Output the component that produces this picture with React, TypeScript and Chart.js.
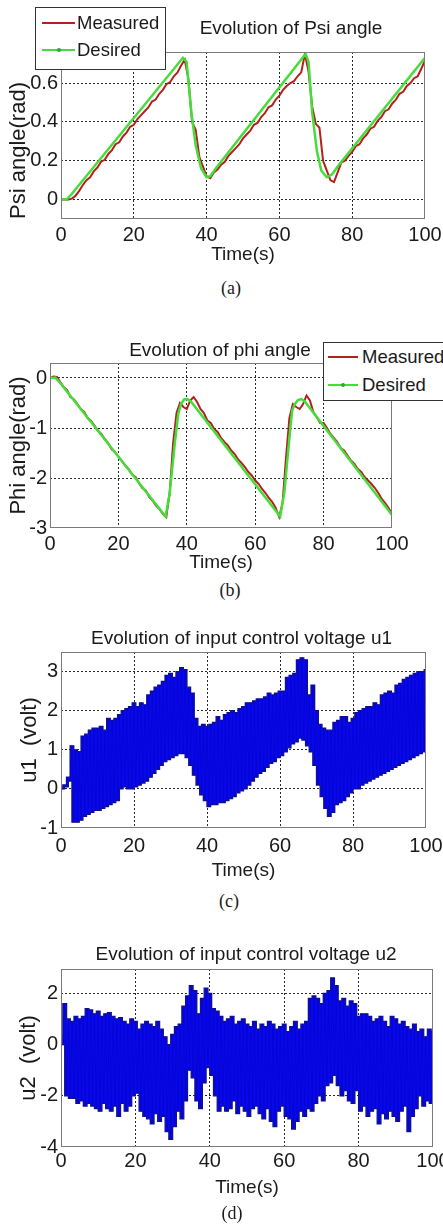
import React, { useEffect, useRef } from "react";
import { Chart, registerables } from "chart.js";

Chart.register(...registerables);

const SANS = "'Liberation Sans', Arial, Helvetica, sans-serif";
const SERIF = "'Liberation Serif', 'Times New Roman', serif";
const TEXT = "#1a1a1a";
const RED = "#b3201e";
const GREEN = "#44dd3a";
const BLUE = "#0808ea";
const BLUE_SIGNAL = "#0404d0";
const NAVY = "#101090";

// time axis (seconds)
const TIME_S = Array.from({ length: 101 }, (_, i) => i);
const X_TICKS = [0, 20, 40, 60, 80, 100];

// (a) Psi angle
const PSI_TICKS = [0, 0.2, 0.4, 0.6];
const PSI_DESIRED_T = [0, 1.5, 3, 33.5, 34.5, 35.8, 37, 38.5, 40, 41, 42.5, 67.2, 68, 69, 70.3, 71.5, 73, 74.5, 76, 100];
const PSI_DESIRED = [0, 0, 0.03, 0.73, 0.71, 0.45, 0.28, 0.16, 0.115, 0.12, 0.16, 0.75, 0.71, 0.45, 0.25, 0.15, 0.115, 0.13, 0.17, 0.73];
const PSI_MEASURED = [
  0, 0, 0, 0.005, 0.02, 0.045, 0.075, 0.1, 0.115, 0.145,
  0.165, 0.195, 0.205, 0.235, 0.255, 0.285, 0.295, 0.325, 0.345, 0.375,
  0.385, 0.415, 0.435, 0.455, 0.475, 0.505, 0.515, 0.545, 0.565, 0.595,
  0.605, 0.635, 0.655, 0.69, 0.72, 0.62, 0.4, 0.36, 0.22, 0.17,
  0.12, 0.11, 0.14, 0.155, 0.18, 0.195, 0.225, 0.245, 0.265, 0.285,
  0.315, 0.335, 0.355, 0.385, 0.395, 0.425, 0.445, 0.475, 0.485, 0.515,
  0.535, 0.565, 0.585, 0.6, 0.61, 0.635, 0.655, 0.75, 0.66, 0.48,
  0.39, 0.37, 0.2, 0.15, 0.1, 0.09, 0.14, 0.19, 0.2, 0.225,
  0.245, 0.275, 0.285, 0.315, 0.335, 0.365, 0.375, 0.405, 0.425, 0.455,
  0.465, 0.495, 0.515, 0.545, 0.555, 0.585, 0.6, 0.625, 0.635, 0.675,
  0.715,
];

// (b) Phi angle
const PHI_TICKS = [-3, -2, -1, 0];
const PHI_DESIRED_T = [0, 1.5, 3, 33.8, 35, 36.5, 37.5, 38.3, 39.2, 40.2, 41.2, 67.3, 68.5, 70, 70.8, 71.6, 72.5, 73.5, 74.5, 100];
const PHI_DESIRED = [0, 0.01, -0.1, -2.77, -2.3, -1.3, -0.72, -0.52, -0.43, -0.42, -0.47, -2.77, -2.3, -1.2, -0.65, -0.52, -0.44, -0.42, -0.47, -2.74];
const PHI_MEASURED = [
  0, 0.03, 0.02, -0.08, -0.18, -0.24, -0.38, -0.43, -0.52, -0.62,
  -0.68, -0.8, -0.86, -0.95, -1.05, -1.12, -1.22, -1.3, -1.42, -1.48,
  -1.57, -1.66, -1.75, -1.82, -1.93, -1.98, -2.1, -2.2, -2.25, -2.38,
  -2.45, -2.55, -2.62, -2.72, -2.78, -2.3, -1.3, -0.7, -0.5, -0.58,
  -0.62, -0.45, -0.38, -0.48, -0.62, -0.7, -0.85, -0.9, -1.02, -1.08,
  -1.2, -1.28, -1.35, -1.45, -1.52, -1.63, -1.7, -1.78, -1.88, -1.95,
  -2.05, -2.12, -2.22, -2.3, -2.4, -2.48, -2.6, -2.78, -2.5, -1.6,
  -0.8, -0.52, -0.58, -0.62, -0.52, -0.35, -0.45, -0.68, -0.78, -0.9,
  -0.9, -1.0, -1.12, -1.2, -1.28, -1.4, -1.45, -1.55, -1.65, -1.72,
  -1.82, -1.88, -1.98, -2.05, -2.12, -2.2, -2.3, -2.42, -2.5, -2.6,
  -2.72,
];

// (c) input control voltage u1: upper / lower swing per second
const U1_TICKS = [-1, 0, 1, 2, 3];
const U1_HIGH = [
  0.0, 0.1, 0.3, 1.1, 1.0, 0.95, 1.35, 1.4, 1.5, 1.55,
  1.55, 1.6, 1.5, 1.8, 1.75, 1.8, 1.9, 2.0, 2.05, 2.1,
  2.2, 2.1, 2.2, 2.15, 2.4, 2.5, 2.6, 2.65, 2.75, 2.9,
  2.95, 2.85, 3.0, 3.1, 3.05, 2.6, 2.45, 1.8, 1.6, 1.65,
  1.6, 1.65, 1.7, 1.85, 1.75, 1.9, 1.95, 2.0, 1.95, 2.05,
  2.1, 2.2, 2.2, 2.25, 2.3, 2.3, 2.35, 2.45, 2.4, 2.45,
  2.5, 2.5, 2.85, 2.9, 2.95, 3.3, 3.35, 3.3, 2.4, 2.65,
  2.0, 1.65, 1.55, 1.5, 1.5, 1.7, 1.75, 1.85, 1.85, 1.7,
  1.8, 1.95, 2.0, 2.05, 2.1, 2.1, 2.2, 2.15, 2.4, 2.45,
  2.5, 2.45, 2.65, 2.7, 2.8, 2.85, 2.9, 2.95, 3.0, 3.0,
  3.05,
];
const U1_LOW = [
  0.0, 0.05, 0.2, -0.85, -0.85, -0.8, -0.7, -0.65, -0.6, -0.55,
  -0.55, -0.5, -0.45, -0.4, -0.35, -0.3, 0.0, 0.05, 0.0, 0.0,
  0.05, 0.1, 0.15, 0.2, 0.3, 0.4, 0.5, 0.6, 0.7, 0.75,
  0.8, 0.85, 0.9, 0.9, 0.8, 0.6, 0.35, 0.1, -0.15, -0.3,
  -0.45, -0.4, -0.4, -0.35, -0.35, -0.3, -0.25, -0.2, -0.1, -0.05,
  0.0, 0.1, 0.2, 0.3, 0.4, 0.45, 0.55, 0.65, 0.7, 0.8,
  0.85, 0.95, 1.05, 1.15, 1.2, 1.3, 1.25, 1.1, 0.95, 0.6,
  0.1, -0.2, -0.5, -0.7, -0.6, -0.4, -0.35, -0.3, -0.2, -0.1,
  0.0, 0.0, 0.1, 0.15, 0.2, 0.25, 0.3, 0.35, 0.4, 0.45,
  0.5, 0.55, 0.6, 0.65, 0.7, 0.75, 0.8, 0.85, 0.9, 0.95,
  1.0,
];

// (d) input control voltage u2: upper / lower swing per second
const U2_TICKS = [-4, -2, 0, 2];
const U2_HIGH = [
  0.0, 1.6, 1.0, 0.9, 1.1, 1.0, 1.1, 1.4, 1.35, 1.2,
  1.3, 1.1, 1.2, 1.25, 1.1, 1.0, 1.05, 0.9, 0.8, 1.0,
  0.9, 0.6, 0.8, 0.9, 0.8, 0.7, 0.9, 0.6, 0.3, 0.0,
  0.4, 0.7, 0.8, 1.5, 1.9, 2.3, 2.1, 1.2, 1.8, 2.2,
  2.0, 1.4, 1.3, 1.1, 0.9, 1.0, 1.1, 0.8, 0.9, 1.0,
  0.8, 0.7, 0.9, 0.6, 0.8, 0.7, 0.9, 0.8, 0.6, 0.7,
  0.8, 0.5, 0.7, 0.9, 0.6, 0.8, 0.9, 1.8, 1.9, 1.8,
  1.6, 2.0, 2.1, 2.6, 2.3, 1.7, 1.8, 1.5, 1.7, 1.6,
  1.1, 1.2, 1.2, 1.1, 0.9, 1.0, 1.1, 0.9, 0.7, 1.1,
  1.0, 0.8, 0.9, 0.7, 0.6, 0.8, 0.5, 0.6, 0.3, 0.6,
  0.5,
];
const U2_LOW = [
  0.0, -2.0, -2.1, -2.1, -2.3, -2.2, -2.4, -2.3, -2.4, -2.5,
  -2.6, -2.3, -2.5, -2.6, -2.4, -2.8, -2.3, -2.6, -2.4, -2.0,
  -1.9, -2.6, -2.8, -2.9, -3.1, -2.7, -3.0, -2.8, -3.4, -3.7,
  -3.2, -2.6, -2.9, -2.2, -1.0, -1.3, -2.2, -2.5, -1.5, -0.9,
  -1.2, -2.0, -2.6, -2.4, -2.6, -2.5, -2.2, -2.7, -2.4, -2.6,
  -2.8, -2.5, -2.4, -2.7, -2.9, -2.5, -3.0, -3.2, -2.6, -2.4,
  -2.8, -2.9, -3.3, -3.0, -2.6, -2.8, -2.5, -2.6, -2.3, -2.0,
  -2.2, -1.6, -1.5, -1.2, -1.6, -2.0, -1.8, -2.2, -2.3, -1.8,
  -2.6, -2.4, -2.8, -2.6, -2.5, -3.1, -2.7, -2.9, -2.6, -2.8,
  -3.0, -2.6, -2.4, -3.4, -2.8, -2.5, -2.0, -2.4, -2.2, -2.3,
  -2.9,
];

function pairs(ts: number[], vs: number[]) {
  return ts.map((t, i) => ({ x: t, y: vs[i] }));
}

function swing(hi: number[], lo: number[]) {
  const pts: { x: number; y: number }[] = [];
  TIME_S.forEach((t, i) => {
    pts.push({ x: t, y: hi[i] });
    pts.push({ x: t + 0.5, y: lo[i] });
  });
  return pts;
}

function swingDatasets(name: string, hi: number[], lo: number[]) {
  return [
    { label: name, data: swing(hi, lo), borderColor: BLUE_SIGNAL, borderWidth: 0.8, order: 0 },
    {
      label: name + " upper",
      data: pairs(TIME_S, hi),
      borderColor: NAVY,
      borderWidth: 1.3,
      backgroundColor: BLUE,
      stepped: "middle",
      fill: "+1",
      order: 2,
    },
    {
      label: name + " lower",
      data: pairs(TIME_S.map((t) => t + 0.5), lo),
      borderColor: NAVY,
      borderWidth: 1.3,
      stepped: "middle",
      fill: false,
      order: 1,
    },
  ];
}

const framePlugin = {
  id: "frame",
  afterDraw(chart: any) {
    const { ctx, chartArea: a } = chart;
    ctx.save();
    ctx.strokeStyle = "#7a7a7a";
    ctx.lineWidth = 1;
    ctx.strokeRect(Math.round(a.left) + 0.5, Math.round(a.top) + 0.5, Math.round(a.right - a.left) - 1, Math.round(a.bottom - a.top) - 1);
    ctx.restore();
  },
};

type PanelSpec = {
  area: [number, number, number, number];
  yMin: number;
  yMax: number;
  yTicks: number[];
  yTitle: string;
  yTitleAlign: "start" | "center";
  yTitleX: number;
  tickDy: number;
  titleDy: number;
  datasets: any[];
};

function gridColor(c: any) {
  const v = c.tick ? c.tick.value : null;
  if (v === null || Math.abs(v - c.scale.min) < 1e-9 || Math.abs(v - c.scale.max) < 1e-9) return "rgba(0,0,0,0)";
  return "#2a2a2a";
}

function PanelChart({ p }: { p: PanelSpec }) {
  const ref = useRef<HTMLCanvasElement>(null);
  const [L, T, R, B] = p.area;
  const padTop = 20;
  const xAxisH = p.titleDy + 14;
  const canvasTop = T - padTop;
  const canvasH = B - T + padTop + xAxisH + 2;

  useEffect(() => {
    const chart = new Chart(ref.current as HTMLCanvasElement, {
      type: "line",
      data: { datasets: p.datasets },
      options: {
        animation: false,
        responsive: false,
        maintainAspectRatio: false,
        devicePixelRatio: 1,
        layout: { padding: { left: 0, top: padTop, right: 443 - R, bottom: 2 } },
        plugins: { legend: { display: false }, tooltip: { enabled: false }, title: { display: false } },
        elements: { point: { radius: 0 }, line: { tension: 0 } },
        scales: {
          x: {
            type: "linear",
            min: 0,
            max: 100,
            afterBuildTicks: (s: any) => {
              s.ticks = X_TICKS.map((v) => ({ value: v }));
            },
            afterFit: (s: any) => {
              s.height = xAxisH;
              s.paddingLeft = 0;
              s.paddingRight = 0;
            },
            ticks: {
              autoSkip: false,
              maxRotation: 0,
              padding: p.tickDy - 12,
              color: TEXT,
              font: { family: SANS, size: 20 },
              callback: (v: any) => String(v),
            },
            grid: { drawTicks: false, color: gridColor, lineWidth: 1 },
            border: { display: false, dash: [2, 2] },
            title: {
              display: true,
              text: "Time(s)",
              color: TEXT,
              font: { family: SANS, size: 19 },
              padding: { top: 0, bottom: xAxisH - p.titleDy - 11.4 },
            },
          },
          y: {
            type: "linear",
            min: p.yMin,
            max: p.yMax,
            afterBuildTicks: (s: any) => {
              s.ticks = p.yTicks.map((v) => ({ value: v }));
            },
            afterFit: (s: any) => {
              s.width = L;
              s.paddingTop = 0;
              s.paddingBottom = 0;
            },
            ticks: {
              autoSkip: false,
              padding: 3,
              color: TEXT,
              font: { family: SANS, size: 20 },
              callback: (v: any) => String(v),
            },
            grid: { drawTicks: false, color: gridColor, lineWidth: 1 },
            border: { display: false, dash: [2, 2] },
            title: {
              display: true,
              text: p.yTitle,
              align: p.yTitleAlign,
              color: TEXT,
              font: { family: SANS, size: 22 },
              padding: { top: p.yTitleX - 13.2, bottom: 0 },
            },
          },
        },
      } as any,
      plugins: [framePlugin],
    });
    return () => chart.destroy();
  }, []);

  return (
    <canvas
      ref={ref}
      width={443}
      height={canvasH}
      style={{ position: "absolute", left: 0, top: canvasTop, width: 443, height: canvasH }}
    />
  );
}

const PANELS: PanelSpec[] = [
  {
    area: [61, 52, 425, 219],
    yMin: -0.1,
    yMax: 0.76,
    yTicks: PSI_TICKS,
    yTitle: "Psi angle(rad)",
    yTitleAlign: "start",
    yTitleX: 19,
    tickDy: 16,
    titleDy: 36,
    datasets: [
      { label: "Measured", data: pairs(TIME_S, PSI_MEASURED), borderColor: RED, borderWidth: 2, order: 1 },
      { label: "Desired", data: pairs(PSI_DESIRED_T, PSI_DESIRED), borderColor: GREEN, borderWidth: 2.5, order: 0 },
    ],
  },
  {
    area: [50, 363, 392, 528],
    yMin: -3,
    yMax: 0.3,
    yTicks: PHI_TICKS,
    yTitle: "Phi angle(rad)",
    yTitleAlign: "center",
    yTitleX: 19,
    tickDy: 16,
    titleDy: 35,
    datasets: [
      { label: "Measured", data: pairs(TIME_S, PHI_MEASURED), borderColor: RED, borderWidth: 2, order: 1 },
      { label: "Desired", data: pairs(PHI_DESIRED_T, PHI_DESIRED), borderColor: GREEN, borderWidth: 2.5, order: 0 },
    ],
  },
  {
    area: [61, 652, 426, 828],
    yMin: -1,
    yMax: 3.5,
    yTicks: U1_TICKS,
    yTitle: "u1  (volt)",
    yTitleAlign: "center",
    yTitleX: 30,
    tickDy: 18,
    titleDy: 43,
    datasets: swingDatasets("u1", U1_HIGH, U1_LOW),
  },
  {
    area: [61, 969, 433, 1147],
    yMin: -4,
    yMax: 2.95,
    yTicks: U2_TICKS,
    yTitle: "u2  (volt)",
    yTitleAlign: "center",
    yTitleX: 29,
    tickDy: 14,
    titleDy: 41,
    datasets: swingDatasets("u2", U2_HIGH, U2_LOW),
  },
];

const TITLES = [
  { text: "Evolution of Psi angle", x: 291, y: 27 },
  { text: "Evolution of phi angle", x: 220, y: 349 },
  { text: "Evolution of input control voltage u1", x: 241.5, y: 637 },
  { text: "Evolution of input control voltage u2", x: 246, y: 953 },
];

const CAPTIONS = [
  { text: "(a)", x: 231, y: 288 },
  { text: "(b)", x: 230, y: 590 },
  { text: "(c)", x: 229, y: 901 },
  { text: "(d)", x: 232, y: 1213 },
];

const LEGENDS = [
  { left: 35, top: 7, width: 131, height: 63, lineX: 42, lineW: 33, textX: 77, rows: [23, 50] },
  { left: 323, top: 342, width: 130, height: 59, lineX: 328, lineW: 30, textX: 362, rows: [357, 385] },
];

function Centered({ text, x, y, size, family }: { text: string; x: number; y: number; size: number; family: string }) {
  const lh = Math.round(size * 1.2);
  return (
    <div
      style={{
        position: "absolute",
        left: x - 200,
        width: 400,
        top: y - lh / 2,
        height: lh,
        lineHeight: `${lh}px`,
        fontSize: size,
        fontFamily: family,
        color: TEXT,
        textAlign: "center",
        whiteSpace: "pre",
      }}
    >
      {text}
    </div>
  );
}

function LegendBox({ l }: { l: (typeof LEGENDS)[number] }) {
  const items = [
    { label: "Measured", color: RED, marker: false },
    { label: "Desired", color: GREEN, marker: true },
  ];
  return (
    <>
      <div
        style={{
          position: "absolute",
          left: l.left,
          top: l.top,
          width: l.width,
          height: l.height,
          boxSizing: "border-box",
          border: "1px solid #333",
          background: "#fff",
        }}
      />
      {items.map((it, i) => (
        <React.Fragment key={it.label}>
          <div
            style={{
              position: "absolute",
              left: l.lineX,
              top: l.rows[i] - 1.25,
              width: l.lineW,
              height: 2.5,
              background: it.color,
            }}
          />
          {it.marker && (
            <div
              style={{
                position: "absolute",
                left: l.lineX + l.lineW / 2 - 2,
                top: l.rows[i] - 2,
                width: 4,
                height: 4,
                borderRadius: 2,
                background: "#2aa82a",
              }}
            />
          )}
          <div
            style={{
              position: "absolute",
              left: l.textX,
              top: l.rows[i] - 11,
              height: 22,
              lineHeight: "22px",
              fontSize: 18.5,
              fontFamily: SANS,
              color: TEXT,
              whiteSpace: "pre",
            }}
          >
            {it.label}
          </div>
        </React.Fragment>
      ))}
    </>
  );
}

export default function App() {
  return (
    <div
      style={{
        position: "absolute",
        left: 0,
        top: 0,
        width: 443,
        height: 1227,
        overflow: "hidden",
        background: "#fff",
      }}
    >
      {PANELS.map((p, i) => (
        <PanelChart key={i} p={p} />
      ))}
      {TITLES.map((t, i) => (
        <Centered key={"t" + i} text={t.text} x={t.x} y={t.y} size={19} family={SANS} />
      ))}
      {CAPTIONS.map((c, i) => (
        <Centered key={"c" + i} text={c.text} x={c.x} y={c.y} size={18} family={SERIF} />
      ))}
      {LEGENDS.map((l, i) => (
        <LegendBox key={"l" + i} l={l} />
      ))}
    </div>
  );
}
